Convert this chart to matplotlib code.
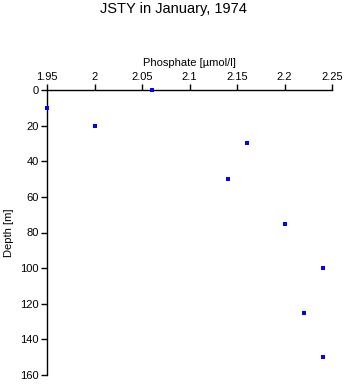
import matplotlib
matplotlib.use("Agg")
import matplotlib.pyplot as plt

plt.rcParams['font.family'] = ['Liberation Sans', 'DejaVu Sans']

# phosphate profile, JSTY January 1974
phosphate = [2.06, 1.95, 2.00, 2.16, 2.14, 2.20, 2.24, 2.22, 2.24]
depth = [0, 10, 20, 30, 50, 75, 100, 125, 150]
x_ticks = [1.95, 2.0, 2.05, 2.1, 2.15, 2.2, 2.25]
x_labels = ["1.95", "2", "2.05", "2.1", "2.15", "2.2", "2.25"]
y_ticks = [0, 20, 40, 60, 80, 100, 120, 140, 160]

fig = plt.figure(figsize=(3.46, 3.84), dpi=100)
ax = fig.add_axes([47/346, 1 - 375/384, 285/346, 285/384])

ax.plot(phosphate, depth, 's', color='blue', markersize=2.2, markeredgewidth=0,
        clip_on=False, zorder=3)

ax.set_xlim(1.95, 2.25)
ax.set_ylim(160, 0)
ax.set_xticks(x_ticks)
ax.set_xticklabels(x_labels)
ax.set_yticks(y_ticks)

ax.xaxis.tick_top()
ax.xaxis.set_label_position('top')
ax.spines['right'].set_visible(False)
ax.spines['bottom'].set_visible(False)
for s in ('top', 'left'):
    ax.spines[s].set_linewidth(1.0)
ax.tick_params(axis='both', direction='out', length=4, width=1, labelsize=8, pad=2)

ax.set_xlabel("Phosphate [µmol/l]", fontsize=8, labelpad=4)
ax.set_ylabel("Depth [m]", fontsize=8, labelpad=4)

fig.text(0.5, 1 - 9/384, "JSTY in January, 1974", ha='center', va='center', fontsize=10.5)

fig.savefig("out.png", dpi=100)
